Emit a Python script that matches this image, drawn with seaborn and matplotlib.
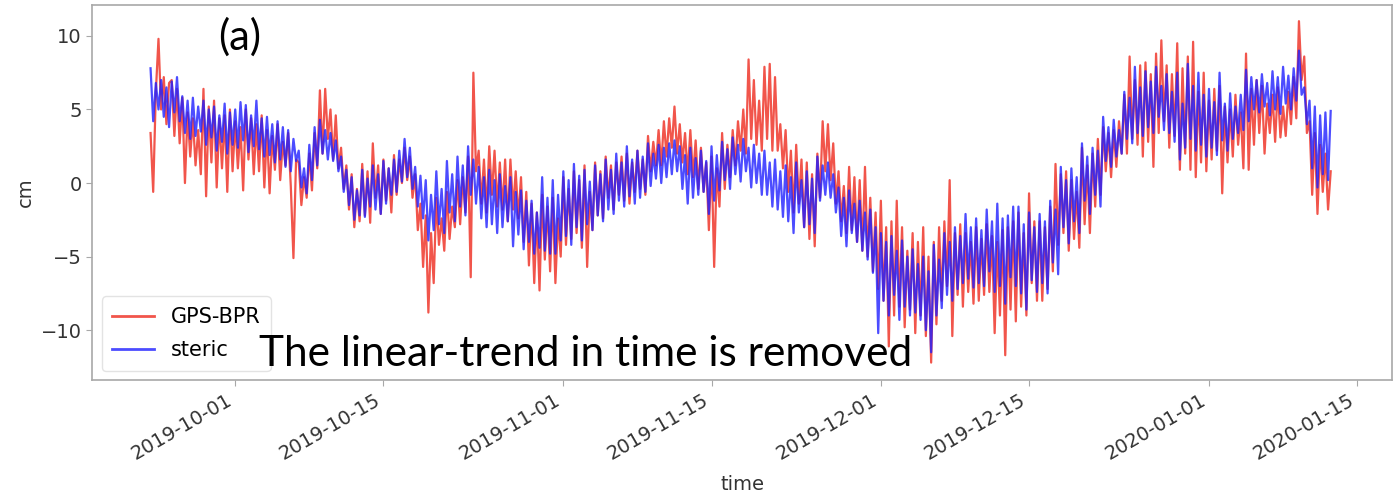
import matplotlib
matplotlib.use("Agg")
import matplotlib.pyplot as plt
import matplotlib.dates as mdates
import numpy as np
import pandas as pd
import seaborn as sns

# Detrended sea-level anomaly (cm), 6-hourly samples from 2019-09-23 00:00
START = "2019-09-23"
STEP = "6h"

gps_bpr = [
    3.4, -0.6, 6.2, 9.8,
    5.0, 7.2, 4.0, 6.8,
    7.0, 3.2, 6.4, 2.7,
    5.8, 0.0, 4.8, 1.8,
    4.4, 1.2, 3.6, 0.6,
    6.4, -0.9, 5.2, 1.4,
    5.6, -0.3, 4.4, 1.0,
    4.6, -0.6, 5.0, 0.8,
    4.2, 1.0, 3.8, -0.5,
    5.0, 1.6, 4.4, 0.6,
    4.0, 0.8, 4.6, -0.3,
    3.6, -0.7, 3.2, 0.9,
    4.0, 0.2, 2.8, 1.2,
    3.4, -0.2, -5.1, 1.6,
    1.4, -1.5, 0.4, -1.0,
    2.0, -0.5, 3.4, 1.0,
    6.3, 2.0, 6.4, 3.0,
    5.0, 1.6, 4.6, 1.0,
    2.4, -0.4, 1.2, -1.8,
    0.6, -3.0, -0.4, -2.6,
    1.3, -2.2, 0.8, -2.7,
    2.7, -1.0, 1.2, -2.1,
    1.6, -1.2, 1.0, -2.0,
    1.9, -0.8, 1.6, 0.0,
    2.4, 0.2, 1.8, -1.0,
    0.6, -3.2, -1.4, -5.7,
    -2.2, -8.8, -3.4, -6.8,
    -1.0, -4.2, -2.4, -4.6,
    -0.6, -3.8, -1.6, -3.0,
    0.2, -2.8, 0.4, -2.0,
    1.8, -6.4, 7.5, 0.8,
    2.2, -1.4, 1.6, -2.0,
    2.5, -0.8, 2.2, -1.6,
    1.4, -1.8, 1.6, -2.6,
    1.6, -1.8, 0.8, -2.4,
    0.4, -4.0, -0.6, -5.6,
    -1.4, -6.8, -2.0, -7.3,
    -0.8, -5.2, -1.6, -6.0,
    -1.0, -6.8, -2.4, -5.0,
    0.4, -4.2, -0.4, -3.8,
    0.8, -3.4, 0.2, -4.4,
    1.2, -5.7, -0.6, -3.2,
    1.4, -2.2, 0.8, -2.4,
    1.8, -1.0, 1.2, -1.8,
    1.4, -0.8, 1.8, -1.2,
    2.0, -1.4, 1.4, -0.6,
    2.2, -0.4, 1.6, -0.8,
    3.2, 0.8, 2.8, 1.2,
    3.6, 1.2, 4.2, 1.8,
    4.4, 2.4, 5.2, 2.0,
    4.0, 1.4, 3.4, 0.6,
    3.6, 0.4, 2.9, -0.4,
    2.4, -0.6, 1.4, -3.2,
    1.8, -5.7, 1.0, -1.6,
    3.4, -0.4, 2.6, 0.4,
    3.6, 1.2, 4.2, 2.2,
    5.0, 2.0, 8.4, 3.0,
    7.0, 2.6, 5.6, 2.2,
    7.9, 3.0, 8.1, 2.2,
    7.2, 2.2, 4.0, 1.0,
    3.6, -0.6, 2.2, -2.0,
    2.6, -1.4, 1.6, -3.0,
    1.4, -3.8, 0.6, -4.3,
    2.0, -1.0, 4.2, 0.8,
    4.0, 0.2, 2.7, -1.4,
    0.8, -2.6, -0.2, -3.4,
    1.1, -3.2, 0.4, -4.0,
    0.2, -4.6, 1.1, -5.0,
    -1.0, -6.0, -2.0, -7.2,
    -1.2, -8.0, -3.0, -11.1,
    -2.6, -9.0, -1.2, -8.4,
    -3.0, -9.8, -4.6, -8.6,
    -3.4, -10.2, -4.0, -9.0,
    -3.0, -10.4, -5.0, -12.2,
    -4.0, -9.6, -3.0, -8.0,
    -2.6, -7.0, 0.2, -10.4,
    -3.4, -7.6, -2.8, -8.4,
    -3.4, -7.4, -4.0, -8.2,
    -3.0, -8.0, -3.8, -7.6,
    -2.8, -7.4, -3.6, -10.2,
    -4.0, -9.0, -3.2, -11.7,
    -3.0, -8.6, -2.6, -9.4,
    -2.0, -8.4, -3.4, -9.0,
    -0.7, -6.8, -2.6, -8.0,
    -2.6, -8.0, -3.0, -7.2,
    -1.6, -6.0, 1.3, -4.2,
    0.6, -3.4, 0.8, -4.6,
    0.2, -3.8, -0.6, -4.4,
    2.4, -2.8, 1.2, -3.4,
    2.0, -1.6, 3.0, -0.8,
    3.8, 0.8, 3.4, 0.4,
    3.6, 1.1, 4.2, 2.0,
    6.0, 2.0, 8.6, 3.0,
    7.0, 2.6, 8.0, 1.8,
    8.2, 2.8, 7.4, 1.1,
    8.8, 3.4, 9.7, 4.2,
    8.0, 2.4, 7.4, 3.2,
    9.5, 0.9, 7.8, 2.0,
    8.6, 0.9, 9.6, 0.4,
    6.2, 1.4, 7.5, 0.8,
    5.6, 1.6, 6.4, 2.2,
    6.6, -0.7, 5.2, 1.4,
    5.0, 1.8, 6.0, 2.6,
    4.8, 1.0, 8.8, 0.9,
    6.4, 2.6, 7.0, 3.4,
    6.6, 2.0, 5.4, 3.4,
    6.0, 2.8, 6.5, 3.1,
    5.2, 3.2, 6.2, 4.0,
    7.2, 4.4, 11.0, 7.0,
    8.6, 3.4, 4.2, -0.8,
    3.4, -2.1, 2.6, -0.6,
    2.0, -1.8, 0.8,
]

steric = [
    7.8, 4.2, 6.8, 5.0,
    7.0, 4.5, 6.5, 3.8,
    6.9, 4.8, 7.2, 4.2,
    5.9, 3.4, 5.6, 3.0,
    5.8, 3.2, 5.2, 3.5,
    5.6, 2.6, 5.0, 3.1,
    5.2, 2.2, 4.6, 2.8,
    5.4, 2.0, 4.8, 2.6,
    5.0, 2.4, 5.5, 2.9,
    5.3, 2.1, 4.6, 2.5,
    5.6, 2.3, 4.4, 1.8,
    4.5, 1.9, 4.0, 1.4,
    4.2, 1.6, 3.8, 1.1,
    3.6, 0.8, 3.0, 1.5,
    2.2, -0.3, 1.0, -0.7,
    2.6, 0.2, 3.8, 1.2,
    4.3, 2.0, 3.6, 1.6,
    3.4, 1.5, 2.9, 0.8,
    1.8, -0.6, 0.9, -1.5,
    0.4, -2.5, -0.5, -2.2,
    0.9, -2.3, 0.3, -1.6,
    1.2, -1.8, 0.6, -2.1,
    1.5, -1.4, 1.0, -0.8,
    1.6, -0.6, 2.2, 0.1,
    3.0, 0.4, 2.4, -0.4,
    1.1, -1.6, 0.5, -2.4,
    0.2, -3.9, -0.8, -3.2,
    0.8, -2.8, -0.4, -3.4,
    1.5, -2.0, 0.6, -2.6,
    1.8, -1.6, 1.2, -2.2,
    2.5, -0.8, 1.6, -1.4,
    1.1, -2.4, 0.4, -3.0,
    0.9, -2.8, 0.2, -3.4,
    0.6, -3.0, -0.2, -2.6,
    0.4, -4.3, -0.6, -3.5,
    -0.5, -4.5, -1.2, -4.0,
    -1.2, -4.8, -2.0, -4.4,
    0.4, -4.6, -1.0, -4.8,
    0.2, -4.8, -0.8, -3.9,
    0.8, -3.6, 0.2, -4.2,
    1.3, -3.0, 0.5, -3.9,
    0.9, -2.8, 0.1, -3.2,
    1.2, -2.2, 0.6, -2.6,
    1.6, -1.8, 0.9, -2.1,
    2.0, -1.2, 1.4, -1.6,
    2.5, -0.9, 1.6, -1.4,
    2.2, -1.0, 1.8, -0.6,
    2.7, -0.2, 2.0, 0.3,
    2.6, 0.0, 2.4, 0.4,
    2.7, 0.6, 2.9, 0.8,
    2.5, -0.4, 1.9, -1.4,
    2.4, -1.0, 1.7, -0.8,
    2.2, -0.6, 1.5, -2.1,
    2.5, -1.2, 1.9, -0.5,
    2.8, 0.2, 2.3, -0.4,
    3.1, 0.6, 2.6, 0.1,
    3.0, 0.8, 2.4, -0.3,
    2.6, 0.0, 2.0, -0.8,
    2.2, -0.8, 1.4, -1.6,
    1.6, -1.8, 0.8, -2.3,
    1.2, -2.6, 0.4, -3.4,
    1.4, -2.0, 0.2, -3.0,
    0.8, -2.8, 0.3, -3.4,
    1.8, -1.2, 1.2, -0.8,
    1.4, -1.0, 0.6, -2.0,
    -0.3, -3.6, -1.0, -4.3,
    -0.5, -3.4, -1.4, -4.0,
    -1.2, -4.6, -2.0, -5.2,
    -1.8, -6.1, -3.0, -10.2,
    -3.4, -8.0, -4.0, -9.0,
    -3.6, -7.6, -4.6, -9.3,
    -3.9, -8.4, -5.0, -9.0,
    -4.5, -8.8, -5.5, -9.3,
    -5.0, -10.0, -6.0, -11.5,
    -4.2, -9.0, -5.2, -8.5,
    -3.4, -7.6, -4.0, -8.0,
    -3.0, -7.2, -3.6, -6.8,
    -2.1, -6.5, -3.0, -7.1,
    -2.4, -6.8, -3.2, -7.0,
    -1.8, -6.0, -2.6, -7.4,
    -1.4, -7.0, -2.4, -8.2,
    -2.2, -6.4, -1.6, -7.0,
    -1.6, -7.5, -2.8, -8.6,
    -2.0, -6.6, -3.0, -7.4,
    -2.1, -6.8, -2.6, -7.5,
    -1.2, -5.4, -1.8, -6.2,
    1.1, -3.0, 0.2, -4.1,
    1.0, -2.6, 0.4, -3.4,
    2.7, -1.2, 1.8, -2.1,
    2.4, -0.8, 2.2, -1.6,
    4.5, 1.5, 3.8, 1.1,
    4.3, 1.8, 3.6, 2.0,
    6.2, 3.0, 5.8, 2.7,
    7.9, 3.4, 6.5, 3.2,
    7.6, 3.8, 6.9, 3.4,
    7.9, 4.5, 6.6, 3.6,
    7.4, 3.4, 6.2, 2.8,
    7.5, 1.6, 5.4, 2.4,
    8.1, 3.0, 6.6, 2.2,
    7.5, 2.6, 6.0, 1.8,
    6.4, 2.4, 5.5, 1.9,
    7.5, 2.9, 5.4, 2.2,
    6.1, 3.0, 5.2, 3.4,
    6.0, 3.6, 7.7, 4.2,
    7.2, 5.0, 7.0, 4.8,
    7.4, 5.2, 6.8, 4.6,
    7.6, 5.0, 7.2, 4.7,
    7.9, 5.4, 7.3, 5.0,
    7.8, 5.6, 9.0, 6.0,
    6.5, 4.0, 5.6, 1.0,
    5.2, -0.3, 4.6, 0.6,
    4.8, 0.2, 4.9,
]

series_labels = ["GPS-BPR", "steric"]
series_colors = ["#ee2a1e", "#1f1fff"]

time = pd.date_range(START, periods=len(steric), freq=STEP)
df = pd.DataFrame({"time": time, "GPS-BPR": gps_bpr, "steric": steric})

fig = plt.figure(figsize=(13.99, 4.99), dpi=100)
ax = fig.add_axes([0.066, 0.238, 0.929, 0.752])

for name, col in zip(series_labels, series_colors):
    sns.lineplot(data=df, x="time", y=name, color=col, alpha=0.8,
                 linewidth=1.6, label=name, ax=ax)

ax.set_ylim(-13.4, 12.1)
ax.set_xlim(pd.Timestamp("2019-09-17 12:00"), pd.Timestamp("2020-01-18 07:00"))
ax.set_yticks([-10, -5, 0, 5, 10])
ax.xaxis.set_major_locator(mdates.DayLocator(bymonthday=[1, 15]))
ax.xaxis.set_major_formatter(mdates.DateFormatter("%Y-%m-%d"))

for s in ax.spines.values():
    s.set_color("#a8a8a8")
    s.set_linewidth(1.2)
ax.tick_params(axis="both", colors="#a8a8a8", labelcolor="#333333",
               labelsize=14, length=4)
plt.setp(ax.get_xticklabels(), rotation=30, ha="right")

ax.set_xlabel("time", fontsize=14, color="#333333", labelpad=8)
ax.set_ylabel("cm", fontsize=14, color="#333333")

leg = ax.legend(loc="lower left", fontsize=15, frameon=True,
                handlelength=2.0, labelspacing=0.65, borderaxespad=0.45,
                borderpad=0.5)
leg.get_frame().set_edgecolor("#dddddd")
for line in leg.get_lines():
    line.set_linewidth(2.0)

fig.text(0.156, 0.9, "(a)", fontsize=30, family="Lato", color="black")
fig.text(0.185, 0.2665, "The linear-trend in time is removed", fontsize=30.5,
         family="Lato", color="black")

fig.savefig("out.png", dpi=100)
